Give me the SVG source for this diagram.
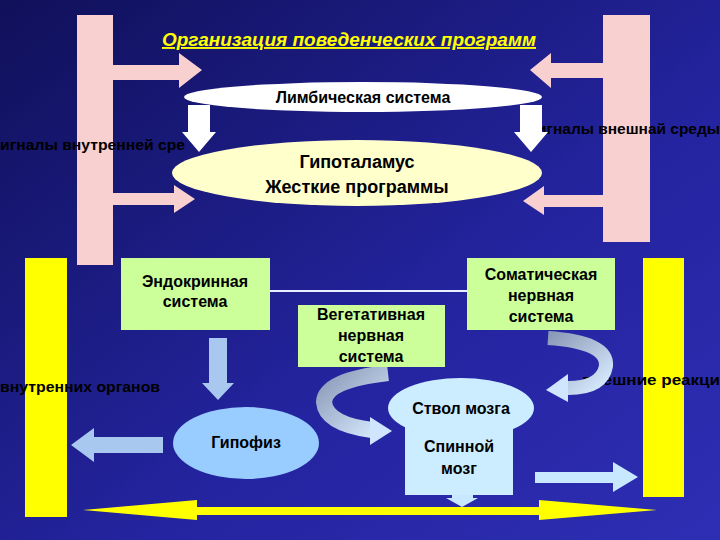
<svg xmlns="http://www.w3.org/2000/svg" width="720" height="540" viewBox="0 0 720 540">
<defs>
<linearGradient id="bg" x1="0" y1="0" x2="1" y2="1"><stop offset="0" stop-color="#10105a"/><stop offset="0.6" stop-color="#2424a0"/><stop offset="1" stop-color="#2e2eb4"/></linearGradient>
<linearGradient id="cv" x1="0" y1="0" x2="1" y2="1"><stop offset="0" stop-color="#8a9ab8"/><stop offset="1" stop-color="#d8ecff"/></linearGradient>
<style>
.t{font-family:"Liberation Sans",Arial,sans-serif;fill:#000;text-anchor:middle;font-weight:bold}
.l{font-family:"Liberation Sans",Arial,sans-serif;fill:#000;font-size:15px;font-weight:bold}
.pk{fill:#f8d0d0}
.yl{fill:#ffff00}
.gr{fill:#ccff99}
</style>
</defs>
<rect width="720" height="540" fill="url(#bg)"/>
<text x="349" y="46" font-family="Liberation Sans,Arial,sans-serif" font-size="19" font-weight="bold" font-style="italic" fill="#ffff00" text-anchor="middle" text-decoration="underline">Организация поведенческих программ</text>
<g id="bars">
<rect class="pk" x="77" y="15" width="36" height="250"/>
<rect class="pk" x="603" y="15" width="47" height="227"/>
<rect class="yl" x="25" y="258" width="42" height="259"/>
<rect class="yl" x="643" y="258" width="41" height="239"/>
</g>
<g id="labels">
<text class="l" x="0" y="150" textLength="185" lengthAdjust="spacingAndGlyphs">игналы внутренней сре</text>
<text class="l" x="537" y="134" textLength="183" lengthAdjust="spacingAndGlyphs">игналы внешнай среды</text>
<text class="l" x="0" y="392" textLength="160" lengthAdjust="spacingAndGlyphs">внутренних органов</text>
<text class="l" x="582" y="385" textLength="138" lengthAdjust="spacingAndGlyphs">внешние реакци</text>
</g>
<g id="connectors">
<polygon class="pk" points="99,65 179,65 179,53 202,70 179,88 179,80 99,80"/>
<polygon class="pk" points="615,63 551,63 551,53 530,70 551,88 551,78 615,78"/>
<polygon fill="#fff" points="188,105 210,105 210,132 216,132 199,152 182,132 188,132"/>
<polygon fill="#fff" points="520,105 542,105 542,132 548,132 531,152 514,132 520,132"/>
<polygon class="pk" points="113,193 174,193 174,185 195,199 174,213 174,205 113,205"/>
<polygon class="pk" points="611,195 544,195 544,186 523,201 544,215 544,207 611,207"/>
<line x1="270" y1="291" x2="468" y2="291" stroke="#e8f0ff" stroke-width="2"/>
<polygon fill="#a8c8f0" points="209,338 227,338 227,383 234,383 218,400 202,383 209,383"/>
<polygon fill="#a8c8f0" points="163,437 94,437 94,428 71,445 94,462 94,453 163,453"/>
<polygon fill="#c8e8ff" points="535,472 613,472 613,462 638,477 613,492 613,483 535,483"/>
<polygon fill="#c8e8ff" points="452,485 473,485 473,498 478,498 462,507 446,498 452,498"/>
<polygon class="yl" points="83,510 197,500 197,507 539,507 539,500 657,510 539,520 539,515 197,515 197,520"/>
<path d="M388 373 Q325 380 324 402 Q326 424 372 430" fill="none" stroke="url(#cv)" stroke-width="16"/>
<polygon fill="#d0e6ff" points="370,417 392,431 370,445"/>
<path d="M548 338 Q608 342 606 366 Q602 388 568 388" fill="none" stroke="url(#cv)" stroke-width="14"/>
<polygon fill="#d0e6ff" points="568,374 546,390 568,402"/>
</g>
<g id="limbic"><ellipse cx="363" cy="97" rx="179" ry="15" fill="#fff"/><text class="t" x="363" y="103" font-size="16">Лимбическая система</text></g>
<g id="hypothalamus"><ellipse cx="357" cy="173" rx="185" ry="33" fill="#ffffcc"/><text class="t" x="357" y="168" font-size="18">Гипоталамус</text><text class="t" x="357" y="193" font-size="18">Жесткие программы</text></g>
<g id="endocrine"><rect class="gr" x="121" y="258" width="149" height="72"/><text class="t" x="195" y="287" font-size="16">Эндокринная</text><text class="t" x="195" y="307" font-size="16">система</text></g>
<g id="somatic"><rect class="gr" x="467" y="258" width="148" height="72"/><text class="t" x="541" y="280" font-size="16">Соматическая</text><text class="t" x="541" y="301" font-size="16">нервная</text><text class="t" x="541" y="322" font-size="16">система</text></g>
<g id="vegetative"><rect class="gr" x="298" y="305" width="147" height="62"/><text class="t" x="371" y="320" font-size="16">Вегетативная</text><text class="t" x="371" y="341" font-size="16">нервная</text><text class="t" x="371" y="362" font-size="16">система</text></g>
<g id="hypophysis"><ellipse cx="246" cy="443" rx="73" ry="36" fill="#99ccff"/><text class="t" x="246" y="448" font-size="16">Гипофиз</text></g>
<g id="brainstem"><ellipse cx="461" cy="408" rx="73" ry="30" fill="#ccecff"/><text class="t" x="461" y="414" font-size="16">Ствол мозга</text></g>
<g id="spinal"><rect x="405" y="423" width="108" height="72" fill="#ccecff"/><text class="t" x="459" y="452" font-size="16">Спинной</text><text class="t" x="459" y="474" font-size="16">мозг</text></g>
</svg>
